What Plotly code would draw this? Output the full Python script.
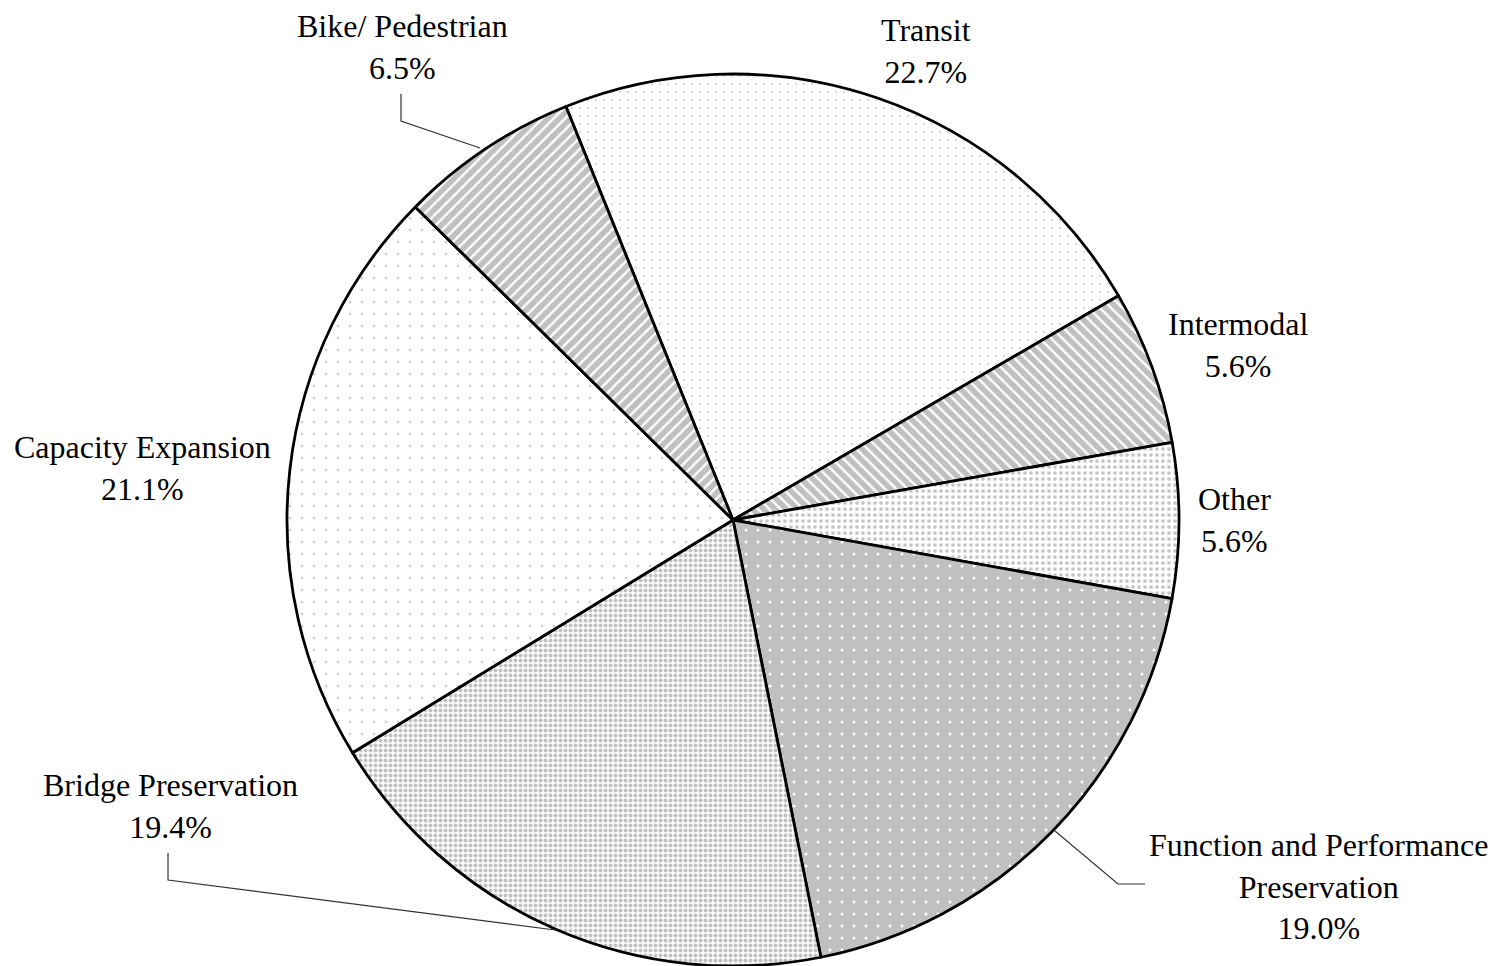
import plotly.graph_objects as go

labels = ["Transit", "Intermodal", "Other", "Function and Performance<br>Preservation",
          "Bridge Preservation", "Capacity Expansion", "Bike/ Pedestrian"]
values = [22.7, 5.6, 5.6, 19.0, 19.4, 21.1, 6.5]

pattern_shapes = [".", "\\", ".", ".", ".", ".", "/"]
pattern_bg = ["white", "#c0c0c0", "white", "#c0c0c0", "white", "white", "#c0c0c0"]
pattern_fg = ["#d0d0d0", "white", "#c4c4c4", "white", "#c0c0c0", "#d4d4d4", "white"]
pattern_size = [8, 8, 6, 12, 5, 12, 8]
pattern_solid = [0.06, 0.3, 0.3, 0.05, 0.5, 0.05, 0.3]

W, H = 1499, 966
OFF = 8  # page body margin


def fx(px):
    return (px - OFF) / W


def fy(py):
    return 1 - (py - OFF) / H


cx, cy, r = 733, 520, 446

fig = go.Figure(go.Pie(
    labels=labels,
    values=values,
    sort=False,
    direction="clockwise",
    rotation=-22,
    textinfo="none",
    hoverinfo="label+percent",
    showlegend=False,
    marker=dict(
        colors=pattern_bg,
        line=dict(color="black", width=2.8),
        pattern=dict(shape=pattern_shapes, bgcolor=pattern_bg, fgcolor=pattern_fg,
                     size=pattern_size, solidity=pattern_solid, fillmode="replace"),
    ),
    domain=dict(x=[fx(cx - r), fx(cx + r)], y=[fy(cy + r), fy(cy - r)]),
))

# label positions (page pixel) for each slice
label_px = [(926, 51), (1238, 345), (1234, 520), (1318, 886), (170, 806), (142, 468), (402, 47)]
annos = []
for lab, v, (px, py) in zip(labels, values, label_px):
    annos.append(dict(
        x=fx(px), y=fy(py), xref="paper", yref="paper",
        text=f"{lab}<br>{v:.1f}%", showarrow=False, borderpad=0,
        font=dict(family="Liberation Serif", size=32, color="black"),
        align="center", xanchor="center", yanchor="middle",
    ))

# leader lines (page pixel paths)
leaders = [
    [(401, 94), (401, 121), (480, 148)],
    [(168, 853), (168, 880), (555, 930)],
    [(1055, 831), (1118, 884), (1145, 884)],
]
shapes = []
for pts in leaders:
    path = "M " + " L ".join(f"{fx(x):.5f},{fy(y):.5f}" for x, y in pts)
    shapes.append(dict(type="path", path=path, xref="paper", yref="paper",
                       line=dict(color="#333333", width=1.2)))

fig.update_layout(
    width=W, height=H,
    margin=dict(l=0, r=0, t=0, b=0),
    paper_bgcolor="white", plot_bgcolor="white",
    annotations=annos, shapes=shapes,
)

fig.write_html("out.html")
